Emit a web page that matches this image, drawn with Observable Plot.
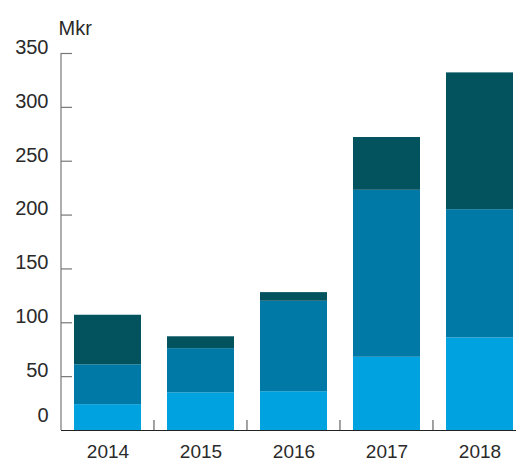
<!DOCTYPE html>
<html>
<head>
<meta charset="utf-8">
<script src="https://cdn.jsdelivr.net/npm/d3@7"></script>
<script src="https://cdn.jsdelivr.net/npm/@observablehq/plot@0.6"></script>
<style>
  html, body { margin: 0; padding: 0; background: #fff; }
  #chart svg { display: block; }
</style>
</head>
<body>
<div id="chart"></div>
<script>
const years = ["2014", "2015", "2016", "2017", "2018"];
const seriesNames = ["A", "B", "C"];
const seriesA = [24, 35, 36, 68, 86];
const seriesB = [37, 41, 84, 155, 119];
const seriesC = [46, 11, 8, 49, 127];
const colors = ["#00a3e0", "#0079a6", "#03535f"];
const yTicks = [50, 100, 150, 200, 250, 300, 350];
const unitLabel = "Mkr";

const data = [];
[seriesA, seriesB, seriesC].forEach((vals, s) => {
  years.forEach((yr, i) => data.push({year: yr, series: seriesNames[s], value: vals[i]}));
});

const font = "'Liberation Sans', Arial, Helvetica, sans-serif";
const padInner = 0.28;

// ticks between bands, pointing up from the baseline
const boundaryTicks = (index, scales, values, dims) => {
  const g = d3.create("svg:g");
  const y0 = scales.y(0);
  for (let i = 0; i < years.length - 1; i++) {
    const a = scales.x(years[i]), b = scales.x(years[i + 1]);
    const xb = b - padInner * (b - a) / 2;
    g.append("line").attr("x1", xb).attr("x2", xb).attr("y1", y0).attr("y2", y0 - 10)
      .attr("stroke", "#444").attr("stroke-width", 1);
  }
  return g.node();
};

// vertical y axis line
const yAxisLine = (index, scales, values, dims) => {
  const g = d3.create("svg:g");
  g.append("line").attr("x1", dims.marginLeft).attr("x2", dims.marginLeft)
    .attr("y1", scales.y(350)).attr("y2", scales.y(0)).attr("stroke", "#777").attr("stroke-width", 1.2);
  return g.node();
};

const chart = Plot.plot({
  width: 516,
  height: 461,
  marginLeft: 61,
  marginRight: 0,
  marginTop: 53,
  marginBottom: 31,
  style: {fontFamily: font, fontSize: "20px", color: "#2a2a2a", background: "#fff"},
  x: {domain: years, range: [61, 526], paddingInner: padInner, paddingOuter: 0.14, label: null},
  y: {domain: [0, 350], label: null},
  color: {domain: seriesNames, range: colors},
  marks: [
    Plot.barY(data, {x: "year", y: "value", fill: "series", order: seriesNames}),
    yAxisLine,
    Plot.axisY(yTicks, {anchor: "left", label: null, tickSize: -11, text: null, stroke: "#777", strokeWidth: 1.2}),
    Plot.axisY(yTicks, {anchor: "left", label: null, tickSize: 0, tickPadding: 13, dy: -6, fontSize: 20, fill: "#2a2a2a"}),
    Plot.axisY([0], {anchor: "left", label: null, tickSize: 0, tickPadding: 13, dy: -15, fontSize: 20, fill: "#2a2a2a"}),
    Plot.ruleY([0], {stroke: "#222", strokeWidth: 1.2}),
    Plot.axisX({label: null, tickSize: 0, tickPadding: 14, fontSize: 19, fill: "#2a2a2a"}),
    boundaryTicks,
    Plot.text([unitLabel], {frameAnchor: "top-left", dx: -3, dy: -33, textAnchor: "start", fontSize: 20, fill: "#2a2a2a"})
  ]
});

document.getElementById("chart").appendChild(chart);
</script>
</body>
</html>
